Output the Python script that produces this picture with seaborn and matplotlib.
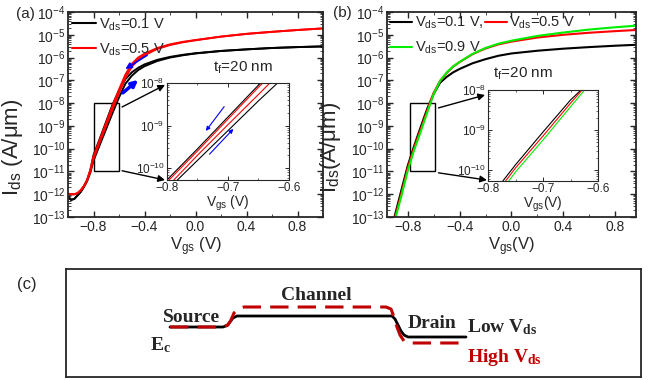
import numpy as np
import pandas as pd
import seaborn as sns
import matplotlib.pyplot as plt
from matplotlib.lines import Line2D
from matplotlib.patches import Rectangle, ConnectionPatch
from matplotlib.ticker import MultipleLocator, LogLocator, NullFormatter

sns.set_style('ticks')
plt.rcParams['font.family'] = ['Liberation Sans', 'DejaVu Sans']
plt.rcParams['mathtext.default'] = 'regular'

# ---------- (a) hysteresis, log10(Ids) in A/um ----------
vgs_a = [-1.0, -0.975, -0.95, -0.925, -0.9, -0.875, -0.85, -0.825, -0.8, -0.75, -0.7, -0.65, -0.6,
         -0.55, -0.5, -0.45, -0.4, -0.3, -0.2, -0.1, 0.0, 0.2, 0.4, 0.6, 0.8, 1.0]
a_black_fwd = [-12.10, -12.25, -12.20, -12.05, -11.90, -11.68, -11.42, -11.05, -10.52, -9.82, -9.12, -8.42, -7.75,
               -7.15, -6.80, -6.55, -6.38, -6.15, -6.00, -5.90, -5.82, -5.71, -5.64, -5.58, -5.54, -5.51]
a_black_bwd = [-12.10, -12.25, -12.20, -12.05, -11.88, -11.65, -11.38, -10.95, -10.28, -9.55, -8.80, -8.05, -7.45,
               -6.95, -6.65, -6.45, -6.30, -6.10, -5.97, -5.88, -5.81, -5.71, -5.64, -5.58, -5.54, -5.51]
a_red_fwd = [-11.98, -12.00, -12.00, -11.95, -11.83, -11.65, -11.40, -11.00, -10.45, -9.70, -8.98, -8.27, -7.55,
             -6.90, -6.40, -6.10, -5.90, -5.62, -5.45, -5.33, -5.24, -5.08, -4.96, -4.87, -4.79, -4.72]
a_red_bwd = [-11.98, -12.00, -12.00, -11.95, -11.82, -11.63, -11.36, -10.92, -10.33, -9.60, -8.85, -8.10, -7.40,
             -6.75, -6.28, -6.00, -5.83, -5.58, -5.42, -5.31, -5.23, -5.08, -4.96, -4.87, -4.79, -4.72]

# ---------- (b) Vds dependence ----------
vgs_b = [-0.96, -0.9, -0.85, -0.8, -0.75, -0.7, -0.65, -0.6, -0.55, -0.5, -0.45, -0.4, -0.3, -0.2, -0.1,
         0.0, 0.2, 0.4, 0.6, 0.8, 0.96]
b_vds01 = [-14.2, -12.95, -11.85, -10.75, -9.87, -9.05, -8.25, -7.60, -7.10, -6.85, -6.65, -6.50, -6.25, -6.07,
           -5.92, -5.82, -5.70, -5.61, -5.54, -5.48, -5.44]
b_vds05 = [-14.3, -13.05, -12.00, -10.85, -9.95, -9.15, -8.33, -7.55, -7.02, -6.68, -6.40, -6.20, -5.85, -5.60,
           -5.42, -5.30, -5.12, -5.00, -4.91, -4.84, -4.79]
b_vds09 = [-14.4, -13.15, -12.10, -10.97, -10.05, -9.25, -8.42, -7.60, -7.02, -6.66, -6.39, -6.19, -5.84, -5.58,
           -5.39, -5.26, -5.05, -4.90, -4.77, -4.67, -4.60]

# ---------- (c) conduction band sketch ----------
pos_low = [104, 157, 161, 164, 167, 171, 326, 329, 332, 335, 338, 342, 400]
ec_low = [0, 0, 1.5, 5, 9, 11, 11, 8, 2, -4, -8, -10, -10]
pos_high = [104, 157, 162, 165, 168, 172, 178, 320, 325, 328, 331, 334, 338, 344, 400]
ec_high = [0, 0, 2, 7, 14, 18, 20, 20, 18, 10, 0, -8, -14, -16, -16]

fig = plt.figure(figsize=(6.54, 3.80), dpi=100)
ax_a = fig.add_axes([0.1040, 0.4289, 0.3899, 0.5395])
ax_b = fig.add_axes([0.5917, 0.4289, 0.3807, 0.5395])
in_a = fig.add_axes([0.2549, 0.5263, 0.1870, 0.2553])
in_b = fig.add_axes([0.7462, 0.5237, 0.1682, 0.2395])
ax_c = fig.add_axes([0.1009, 0.0079, 0.8792, 0.2842])

RED = '#ff0000'
GREEN = '#00ee00'


def curve(ax, x, logy, color, lw):
    df = pd.DataFrame({'Vgs': x, 'Ids': np.power(10.0, logy)})
    sns.lineplot(data=df, x='Vgs', y='Ids', ax=ax, color=color, lw=lw,
                 estimator=None, sort=False, legend=False)


def style_main(ax, xlim):
    ax.set_yscale('log')
    ax.set_xlim(*xlim)
    ax.set_ylim(1e-13, 1e-4)
    ax.xaxis.set_major_locator(MultipleLocator(0.4))
    ax.xaxis.set_minor_locator(MultipleLocator(0.2))
    ax.yaxis.set_major_locator(LogLocator(base=10, numticks=15))
    ax.yaxis.set_minor_locator(LogLocator(base=10, subs=np.arange(2, 10), numticks=100))
    ax.yaxis.set_minor_formatter(NullFormatter())
    ax.tick_params(which='both', direction='in', top=True, right=True, labelsize=10, pad=2)
    ax.tick_params(which='major', length=4, width=1)
    ax.tick_params(which='minor', length=2, width=0.6)
    for s in ax.spines.values():
        s.set_linewidth(1.3)


def style_inset(ax):
    ax.set_yscale('log')
    ax.set_xlim(-0.8, -0.6)
    ax.set_ylim(5.3e-11, 1e-8)
    ax.xaxis.set_major_locator(MultipleLocator(0.1))
    ax.xaxis.set_minor_locator(MultipleLocator(0.05))
    ax.yaxis.set_major_locator(LogLocator(base=10, numticks=10))
    ax.yaxis.set_minor_locator(LogLocator(base=10, subs=np.arange(2, 10), numticks=50))
    ax.yaxis.set_minor_formatter(NullFormatter())
    ax.tick_params(which='both', direction='in', top=True, right=True, labelsize=8.5, pad=1.5)
    ax.tick_params(which='major', length=3, width=0.7)
    ax.tick_params(which='minor', length=1.5, width=0.5)
    for s in ax.spines.values():
        s.set_linewidth(0.8)


# ---- panel (a)
for lg, c in [(a_black_fwd, 'k'), (a_black_bwd, 'k'), (a_red_fwd, RED), (a_red_bwd, RED)]:
    curve(ax_a, vgs_a, lg, c, 1.4)
    curve(in_a, vgs_a, lg, c, 0.8)
style_main(ax_a, (-1.0, 1.0))
ax_a.set_xlabel('V$_{gs}$ (V)', fontsize=12, labelpad=1)
ax_a.set_ylabel('I$_{ds}$ (A/\u03bcm)', fontsize=16)
ax_a.yaxis.set_label_coords(-0.17, 0.34)
style_inset(in_a)
in_a.set_xlabel('V$_{gs}$ (V)', fontsize=10, labelpad=0)
in_a.set_ylabel('')
ax_a.legend(handles=[Line2D([], [], color='k', lw=1.5), Line2D([], [], color=RED, lw=1.5)],
            labels=['V$_{ds}$=0.1 V', 'V$_{ds}$=0.5 V'], loc='upper left', frameon=False,
            fontsize=10.5, handlelength=1.6, handletextpad=0.2, labelspacing=0.6,
            borderaxespad=0.1, borderpad=0.2)
ax_a.text(0.57, 0.73, 't$_f$=20 nm', transform=ax_a.transAxes, fontsize=11, va='center')
ax_a.add_patch(Rectangle((-0.8, 1e-11), 0.2, 1e-8 - 1e-11, fill=False, ec='k', lw=1))
for tail, head, lw in [((-0.38, 10**-5.9), (-0.55, 10**-6.5), 1.2),
                       ((-0.57, 10**-7.55), (-0.45, 10**-6.98), 2.5)]:
    ax_a.annotate('', xy=head, xytext=tail,
                  arrowprops=dict(arrowstyle='-|>', color='blue', lw=lw, mutation_scale=9,
                                  shrinkA=0, shrinkB=0))
for tail, head in [((-0.706, 10**-8.555), (-0.736, 10**-9.124)),
                   ((-0.730, 10**-9.67), (-0.691, 10**-9.077))]:
    in_a.annotate('', xy=head, xytext=tail,
                  arrowprops=dict(arrowstyle='-|>', color='blue', lw=0.8, mutation_scale=6,
                                  shrinkA=0, shrinkB=0))
for start, end in [((-0.576, 10**-8.17), (-0.014, 0.98)), ((-0.576, 10**-10.97), (-0.014, 0.0))]:
    fig.add_artist(ConnectionPatch(xyA=start, coordsA=ax_a.transData, xyB=end, coordsB=in_a.transAxes,
                                   arrowstyle='-|>', color='k', lw=1, mutation_scale=10))

# ---- panel (b)
for lg, c in [(b_vds01, 'k'), (b_vds05, RED), (b_vds09, GREEN)]:
    curve(ax_b, vgs_b, lg, c, 1.5)
    curve(in_b, vgs_b, lg, c, 0.8)
style_main(ax_b, (-0.96, 0.96))
ax_b.set_xlabel('V$_{gs}$(V)', fontsize=12, labelpad=1)
ax_b.set_ylabel('I$_{ds}$(A/\u03bcm)', fontsize=16)
ax_b.yaxis.set_label_coords(-0.177, 0.34)
style_inset(in_b)
in_b.set_xlabel('V$_{gs}$(V)', fontsize=10, labelpad=0)
in_b.set_ylabel('')
ax_b.legend(handles=[Line2D([], [], color='k', lw=1.5), Line2D([], [], color=GREEN, lw=1.5),
                     Line2D([], [], color=RED, lw=1.5)],
            labels=['V$_{ds}$=0.1 V,', 'V$_{ds}$=0.9 V', 'V$_{ds}$=0.5 V'], ncol=2,
            loc='upper left', frameon=False, fontsize=10.5, handlelength=1.5, handletextpad=0.2,
            labelspacing=0.6, columnspacing=0.1, borderaxespad=0.0, borderpad=0.2)
ax_b.text(0.426, 0.70, 't$_f$=20 nm', transform=ax_b.transAxes, fontsize=11, va='center')
ax_b.add_patch(Rectangle((-0.78, 1e-11), 0.19, 1e-8 - 1e-11, fill=False, ec='k', lw=1))
for start, end in [((-0.563, 10**-8.21), (-0.027, 0.945)), ((-0.563, 10**-11.06), (-0.01, 0.01))]:
    fig.add_artist(ConnectionPatch(xyA=start, coordsA=ax_b.transData, xyB=end, coordsB=in_b.transAxes,
                                   arrowstyle='-|>', color='k', lw=1, mutation_scale=10))

# ---- panel (c)
DRED = '#c00000'
sns.lineplot(x=pos_low, y=ec_low, ax=ax_c, color='k', lw=2.0, estimator=None, sort=False)
sns.lineplot(x=pos_high, y=ec_high, ax=ax_c, color=DRED, lw=2.2, estimator=None, sort=False,
             dashes=False, linestyle=(0, (6, 3)))
ax_c.set_xlim(0, 575)
ax_c.set_ylim(-50, 58)
ax_c.set_xticks([])
ax_c.set_yticks([])
for s in ax_c.spines.values():
    s.set_linewidth(1.3)
serif = dict(family=['Liberation Serif', 'DejaVu Serif'], fontweight='bold', fontsize=14)
ax_c.text(250, 27, 'Channel', ha='center', va='baseline', **serif)
ax_c.text(126, 5, 'Source', ha='center', va='baseline', **serif)
ax_c.text(366, -1, 'Drain', ha='center', va='baseline', **serif)
ax_c.text(401, -5, 'Low V$_{ds}$', ha='left', va='baseline', **serif)
ax_c.text(401, -35, 'High V$_{ds}$', ha='left', va='baseline', color=DRED, **serif)
ax_c.text(84, -23, 'E$_c$', ha='left', va='baseline', **serif)

fig.text(25 / 654, 1 - 14 / 380, '(a)', fontsize=11, ha='center', va='center')
fig.text(342 / 654, 1 - 13 / 380, '(b)', fontsize=11, ha='center', va='center')
fig.text(27 / 654, 1 - 285 / 380, '(c)', fontsize=12, ha='center', va='center')

fig.savefig('out.png', dpi=100)
